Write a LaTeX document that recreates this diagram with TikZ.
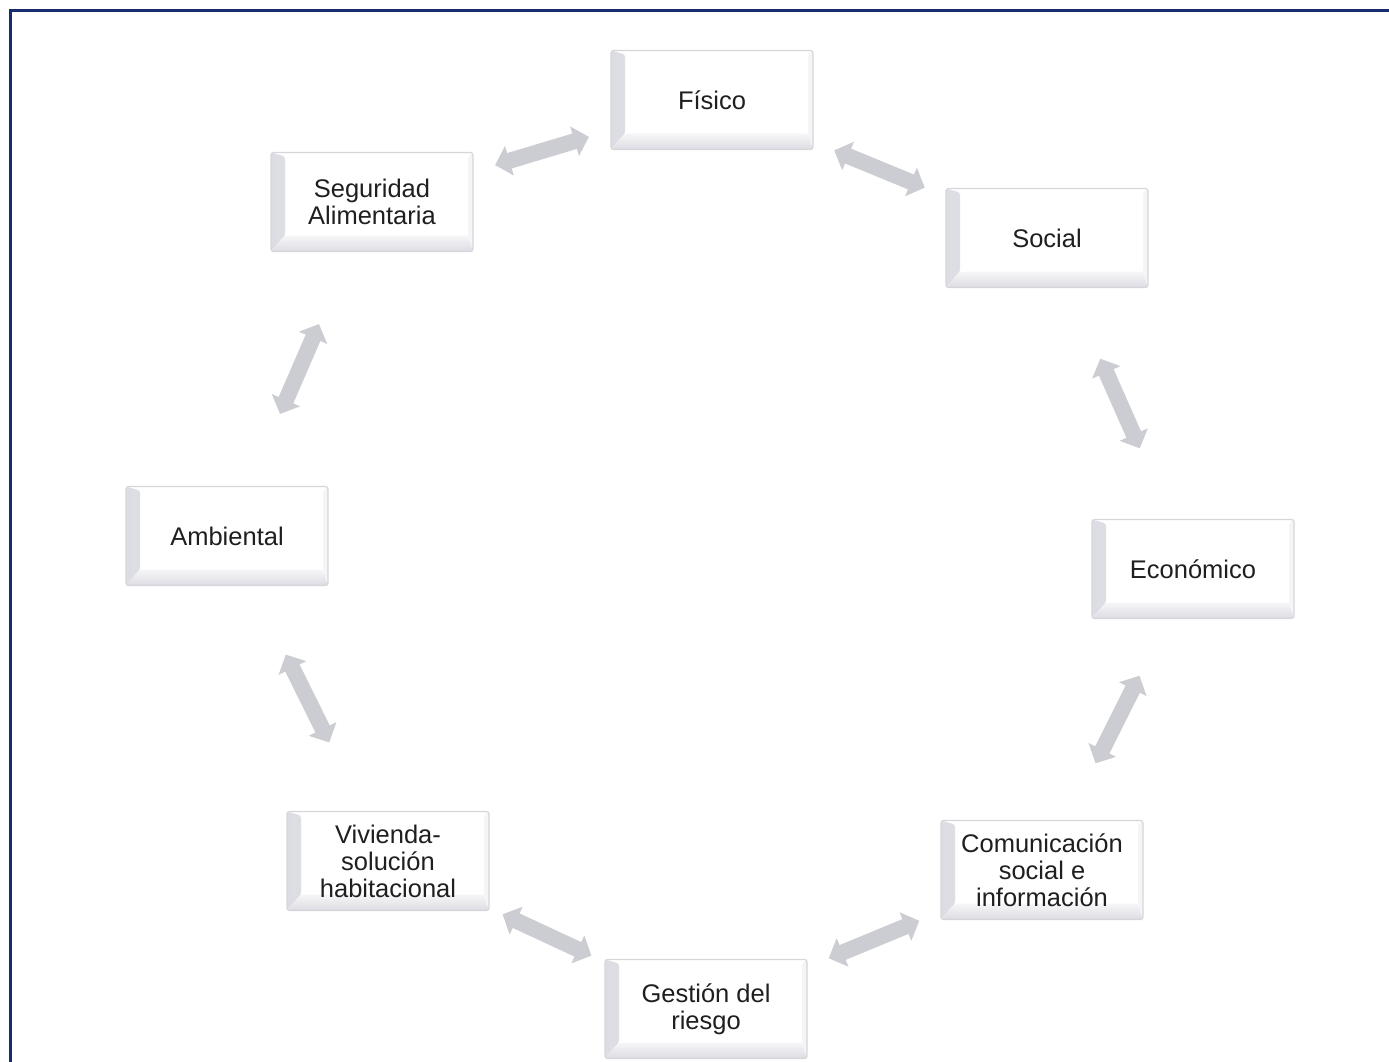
\documentclass[tikz,border=0pt]{standalone}
\usepackage{fontspec}
\setmainfont{Liberation Sans}
\usetikzlibrary{arrows.meta,calc}
\definecolor{framenavy}{RGB}{22,44,108}
\definecolor{linkgray}{RGB}{204,204,211}
\definecolor{bevelgray}{RGB}{220,220,227}
\definecolor{edgegray}{RGB}{214,214,218}
\tikzset{
  facet/.style={draw=edgegray, line width=1.2pt, rounded corners=2.5pt, fill=white,
    minimum width=202pt, minimum height=99pt, inner sep=0pt, align=center,
    text=black!88, font=\fontsize{25.5pt}{27pt}\selectfont,
    path picture={
      % left bevel
      \fill[left color=bevelgray, right color=bevelgray!30]
        (path picture bounding box.south west) -- (path picture bounding box.north west)
        -- ([shift={(14pt,-4pt)}]path picture bounding box.north west)
        -- ([shift={(14pt,16pt)}]path picture bounding box.south west) -- cycle;
      % bottom bevel
      \fill[top color=bevelgray!25, bottom color=bevelgray]
        (path picture bounding box.south west)
        -- ([shift={(14pt,16pt)}]path picture bounding box.south west)
        -- ([shift={(-5pt,16pt)}]path picture bounding box.south east)
        -- (path picture bounding box.south east) -- cycle;
      % right bevel
      \fill[bevelgray!30]
        (path picture bounding box.south east)
        -- ([shift={(-5pt,16pt)}]path picture bounding box.south east)
        -- ([shift={(-5pt,-4pt)}]path picture bounding box.north east)
        -- (path picture bounding box.north east) -- cycle;
    }},
  link/.style={linkgray, line width=16pt,
    {Triangle[length=15pt,width=30pt]}-{Triangle[length=15pt,width=30pt]}}
}
\begin{document}
\begin{tikzpicture}[x=1pt,y=-1pt]
  \useasboundingbox (0,0) rectangle (1389,1062);
  % frame
  \draw[framenavy, line width=3pt] (10.5,1062) -- (10.5,10.5) -- (1389,10.5);
  % boxes
  \node[facet] (fisico) at (712,100) {Físico};
  \node[facet] (seguridad) at (372,202) {Seguridad\\Alimentaria};
  \node[facet] (social) at (1047,238) {Social};
  \node[facet] (ambiental) at (227,536) {Ambiental};
  \node[facet] (economico) at (1193,569) {Económico};
  \node[facet] (vivienda) at (388,861) {Vivienda-\\solución\\habitacional};
  \node[facet] (comunicacion) at (1042,870) {Comunicación\\social e\\información};
  \node[facet] (gestion) at (706,1009) {Gestión del\\riesgo};
  % double arrows between neighbours
  \draw[link] ($(seguridad)!.5!(fisico)!49pt!(seguridad)$) -- ($(seguridad)!.5!(fisico)!49pt!(fisico)$);
  \draw[link] ($(fisico)!.5!(social)!49pt!(fisico)$) -- ($(fisico)!.5!(social)!49pt!(social)$);
  \draw[link] ($(social)!.5!(economico)!49pt!(social)$) -- ($(social)!.5!(economico)!49pt!(economico)$);
  \draw[link] ($(economico)!.5!(comunicacion)!49pt!(economico)$) -- ($(economico)!.5!(comunicacion)!49pt!(comunicacion)$);
  \draw[link] ($(comunicacion)!.5!(gestion)!49pt!(comunicacion)$) -- ($(comunicacion)!.5!(gestion)!49pt!(gestion)$);
  \draw[link] ($(gestion)!.5!(vivienda)!49pt!(gestion)$) -- ($(gestion)!.5!(vivienda)!49pt!(vivienda)$);
  \draw[link] ($(vivienda)!.5!(ambiental)!49pt!(vivienda)$) -- ($(vivienda)!.5!(ambiental)!49pt!(ambiental)$);
  \draw[link] ($(ambiental)!.5!(seguridad)!49pt!(ambiental)$) -- ($(ambiental)!.5!(seguridad)!49pt!(seguridad)$);
\end{tikzpicture}
\end{document}
